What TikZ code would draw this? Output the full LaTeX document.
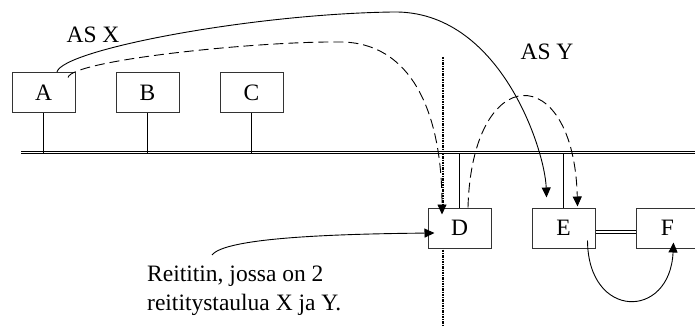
\documentclass[tikz,border=0pt]{standalone}
\usepackage{fontspec}
\setmainfont{Liberation Serif}
\usetikzlibrary{arrows.meta}

\begin{document}
\begin{tikzpicture}[x=1pt, y=-1pt, font=\fontsize{23.5}{29}\selectfont,
  box/.style = {draw=black!80, line width=1pt, fill=white, minimum width=63pt, minimum height=40pt, inner sep=0pt},
  bus/.style = {double, double distance=1.8pt, line width=0.8pt},
  conn/.style = {line width=0.9pt, -{Triangle[length=10pt,width=9pt]}},
  dsh/.style = {dash pattern=on 10pt off 5pt},
  node distance={104pt}]
\useasboundingbox (0,0) rectangle (695,326);
\draw[line width=1.4pt, dash pattern=on 2.5pt off 1pt on 1pt off 1pt] (443,57) -- (443,326);
\node[box] (A) at (43.5,92.5) {A};
\node[box] (B) [right of=A] {B};
\node[box] (C) [right of=B] {C};
\node[box] (D) at (459.5,228) {D};
\node[box] (E) [right of=D] {E};
\node[box] (F) [right of=E] {F};
\node (asx) at (93,35) {AS X};
\node (asy) at (547,52) {AS Y};
\node[anchor=north west, inner sep=0pt, align=left] (note) at (147,266) {Reititin, jossa on 2\\reititystaulua X ja Y.};
\coordinate (busL) at (21,152.5);
\coordinate (busR) at (700,152.5);
\coordinate (tail) at (212,255);
% verkko
\draw[bus] (busL) -- (busR);
\draw[line width=0.9pt] (A) -- (A |- busL);
\draw[line width=0.9pt] (B) -- (B |- busL);
\draw[line width=0.9pt] (C) -- (C |- busL);
\draw[line width=0.9pt] (D) -- (D |- busL);
\draw[line width=0.9pt] (E) -- (E |- busL);
\draw[bus] ([yshift=-4pt]E.east) -- ([yshift=-4pt]F.west);
% reitit
\draw[conn] ([xshift=13.5pt]A.north) .. controls (62,50) and (250,14) .. (393,12) .. controls (500,10) and (545,150) .. ([xshift=-17pt,yshift=10pt]E.north);
\draw[conn, dsh] ([xshift=24.5pt,yshift=-5.5pt]A.north) .. controls (72,60) and (260,41) .. (340,42) .. controls (410,42) and (442,110) .. ([xshift=-17.5pt,yshift=-7pt]D.north);
\draw[conn, dsh] ([xshift=8.5pt]D.north) .. controls (472,60) and (574,60) .. ([xshift=14pt,yshift=1pt]E.north);
\draw[conn] (tail) .. controls (225,238) and (330,234) .. ([xshift=7pt,yshift=-5pt]D.west);
\draw[conn] ([xshift=24pt,yshift=8pt]E.south) .. controls (588,320) and (670,320) .. ([xshift=6pt,yshift=6pt]F.south);
\end{tikzpicture}
\end{document}
